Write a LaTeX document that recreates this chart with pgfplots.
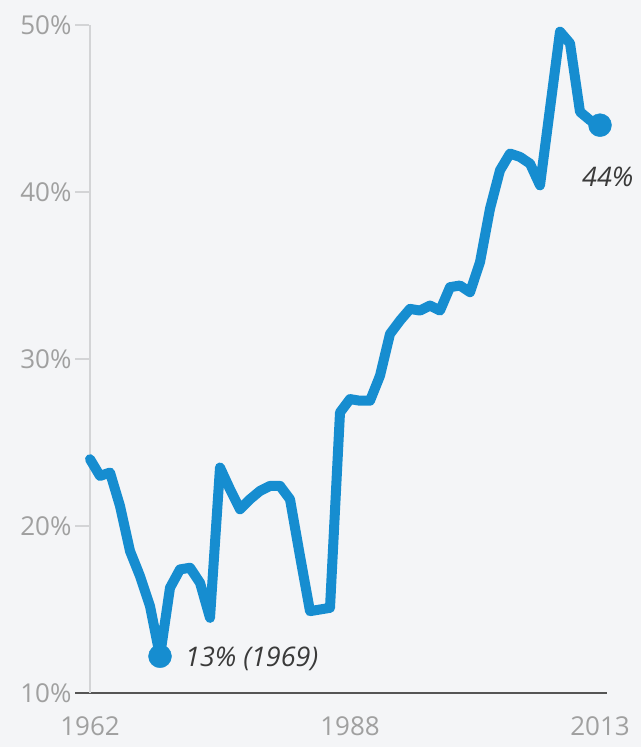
\documentclass[border=0pt]{standalone}
\usepackage{fontspec}
\setmainfont{Open Sans}
\usepackage{pgfplots}
\pgfplotsset{compat=1.18}
\definecolor{bg}{HTML}{F4F5F7}
\definecolor{lineblue}{HTML}{168DD0}
\definecolor{ticktext}{HTML}{A0A0A0}
\definecolor{vline}{HTML}{D3D4D6}
\definecolor{baseline}{HTML}{555555}
\definecolor{annot}{HTML}{3A3A3A}
\pgfplotstableread{
year share
1962 24.0
1963 23.0
1964 23.2
1965 21.2
1966 18.5
1967 17.0
1968 15.2
1969 12.2
1970 16.3
1971 17.4
1972 17.5
1973 16.6
1974 14.5
1975 23.5
1976 22.2
1977 21.0
1978 21.6
1979 22.1
1980 22.4
1981 22.4
1982 21.6
1983 18.2
1984 14.9
1985 15.0
1986 15.1
1987 26.8
1988 27.6
1989 27.5
1990 27.5
1991 29.0
1992 31.5
1993 32.3
1994 33.0
1995 32.9
1996 33.2
1997 32.9
1998 34.3
1999 34.4
2000 34.0
2001 35.8
2002 39.0
2003 41.3
2004 42.3
2005 42.1
2006 41.7
2007 40.4
2008 45.0
2009 49.6
2010 48.9
2011 44.8
2012 44.3
2013 44.0
}\shares
\begin{document}
\begin{tikzpicture}
\useasboundingbox[fill=bg] (0,0) rectangle (641bp,747bp);
\begin{axis}[
  at={(75bp,54bp)}, anchor=south west,
  scale only axis, width=532bp, height=668bp,
  xmin=1960.5, xmax=2013.7, ymin=10, ymax=50,
  axis x line*=bottom, axis y line*=left,
  x axis line style={draw=baseline, line width=2bp, -},
  y axis line style={draw=none},
  xtick={1962,1988,2013}, xticklabels={1962,1988,2013},
  xtick style={draw=none},
  ytick={10,20,30,40,50},
  yticklabel={\pgfmathprintnumber{\tick}\%},
  /pgf/number format/assume math mode=true,
  ytick style={draw=vline, line width=1.2bp},
  tick align=inside, major tick length=14bp,
  tick label style={font=\fontsize{26bp}{30bp}\selectfont, text=ticktext},
  xticklabel style={yshift=-20bp},
  clip=false,
]
\draw[vline, line width=1.5bp] (axis cs:1962,10) -- (axis cs:1962,50);
\addplot[lineblue, line width=10bp, line join=round, line cap=round] table[x=year, y=share] {\shares};
\addplot[lineblue, only marks, mark=*, mark size=11.5bp] coordinates {(1969,12.2) (2013,44.0)};
\node[anchor=base west, inner sep=0, text=annot, font=\fontsize{27bp}{30bp}\selectfont\itshape, xshift=25bp, yshift=-10bp] at (axis cs:1969,12.2) {13\% (1969)};
\node[anchor=base west, inner sep=0, text=annot, font=\fontsize{27bp}{30bp}\selectfont\itshape, xshift=-18bp, yshift=-61bp] at (axis cs:2013,44.0) {44\%};
\end{axis}
\end{tikzpicture}
\end{document}
